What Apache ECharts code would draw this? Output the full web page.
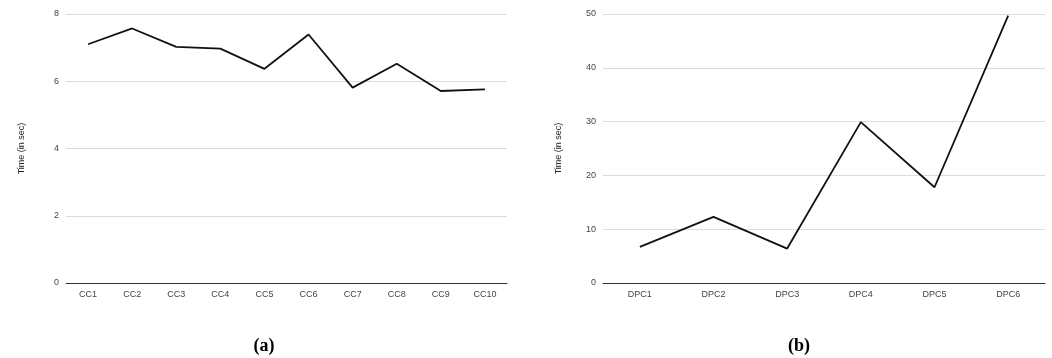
<!DOCTYPE html>
<html>
<head>
<meta charset="utf-8">
<script src="https://cdn.jsdelivr.net/npm/echarts@6/dist/echarts.min.js"></script>
<style>html,body{margin:0;padding:0;background:#fff}#c{width:1052px;height:358px}</style>
</head>
<body>
<div id="c"></div>
<script>
const ccCategories = ['CC1','CC2','CC3','CC4','CC5','CC6','CC7','CC8','CC9','CC10'];
const ccTimes = [7.10, 7.57, 7.02, 6.97, 6.37, 7.39, 5.81, 6.52, 5.71, 5.76];
const dpcCategories = ['DPC1','DPC2','DPC3','DPC4','DPC5','DPC6'];
const dpcTimes = [6.7, 12.3, 6.4, 29.9, 17.8, 49.7];
const yTitle = 'Time (in sec)';
const captions = ['(a)', '(b)'];

const chart = echarts.init(document.getElementById('c'), null, {renderer: 'canvas'});
const labelFont = {fontFamily: 'Liberation Sans, Arial, sans-serif', fontSize: 9, color: '#444'};
function xAxis(idx, cats) {
  return {
    type: 'category', gridIndex: idx, data: cats, boundaryGap: true,
    axisLine: {show: true, lineStyle: {color: '#333', width: 1}},
    axisTick: {show: false},
    axisLabel: Object.assign({margin: 7}, labelFont),
    splitLine: {show: false}
  };
}
function yAxis(idx, max, interval) {
  return {
    type: 'value', gridIndex: idx, min: 0, max: max, interval: interval,
    name: yTitle, nameLocation: 'middle', nameGap: 40, nameRotate: 90,
    nameTextStyle: {fontFamily: 'Liberation Sans, Arial, sans-serif', fontSize: 9, color: '#222'},
    axisLine: {show: false}, axisTick: {show: false},
    axisLabel: Object.assign({margin: 7}, labelFont),
    splitLine: {show: true, lineStyle: {color: '#dcdcdc', width: 1}}
  };
}
chart.setOption({
  animation: false,
  backgroundColor: '#fff',
  title: [
    {text: captions[0], left: 259, top: 332, textAlign: 'center',
     textStyle: {fontFamily: 'Liberation Serif, serif', fontWeight: 'bold', fontSize: 18, color: '#000'}},
    {text: captions[1], left: 794, top: 332, textAlign: 'center',
     textStyle: {fontFamily: 'Liberation Serif, serif', fontWeight: 'bold', fontSize: 18, color: '#000'}}
  ],
  grid: [
    {left: 66, top: 14, width: 441, height: 269},
    {left: 603, top: 14, width: 442, height: 269}
  ],
  xAxis: [xAxis(0, ccCategories), xAxis(1, dpcCategories)],
  yAxis: [yAxis(0, 8, 2), yAxis(1, 50, 10)],
  series: [
    {type: 'line', xAxisIndex: 0, yAxisIndex: 0, data: ccTimes, showSymbol: false,
     lineStyle: {color: '#111', width: 1.8}},
    {type: 'line', xAxisIndex: 1, yAxisIndex: 1, data: dpcTimes, showSymbol: false,
     lineStyle: {color: '#111', width: 1.8}}
  ]
});
</script>
</body>
</html>
